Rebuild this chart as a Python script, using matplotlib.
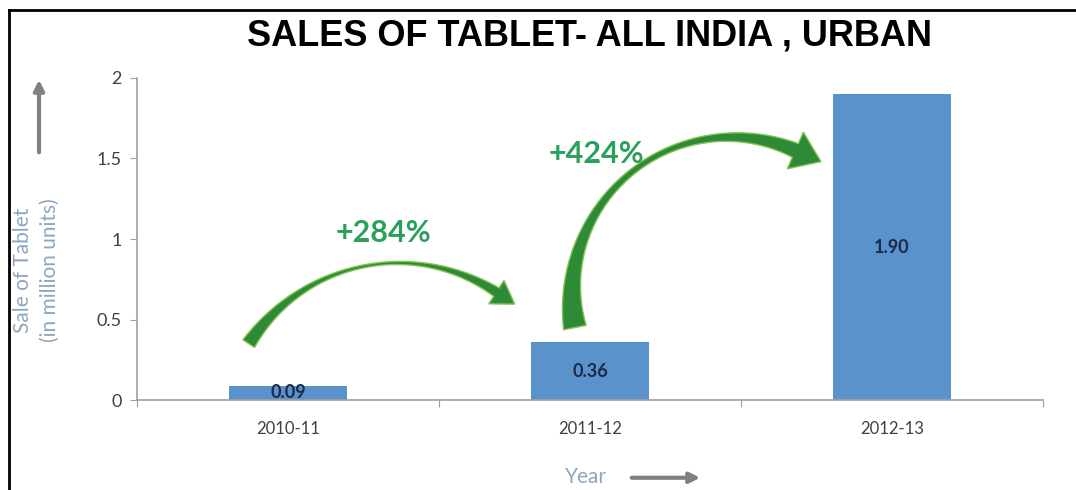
import numpy as np
import matplotlib.pyplot as plt
from matplotlib.patches import Polygon, FancyArrowPatch
from matplotlib.lines import Line2D

years = ['2010-11', '2011-12', '2012-13']
sales = [0.09, 0.36, 1.90]
growth = ['+284%', '+424%']

BAR_BLUE = '#5A92CB'
GREEN_TXT = '#2AA05C'
ARROW_GREEN = '#2E8A36'
LABEL_BLUE = '#8EA6C0'

plt.rcParams['font.family'] = ['Lato', 'DejaVu Sans']

fig = plt.figure(figsize=(10.76, 4.90), dpi=100)
ax = fig.add_axes([137/1076, 1 - 400/490, (1043 - 137)/1076, (400 - 78)/490])

x = np.arange(len(years))
ax.bar(x, sales, width=0.39, color=BAR_BLUE, zorder=2)
for xi, v in zip(x, sales):
    ax.text(xi, v / 2, f'{v:.2f}', ha='center', va='center',
            fontsize=13, fontweight='bold', color='#1B2A47', zorder=3)

ax.set_xlim(-0.5, len(years) - 0.5)
ax.set_ylim(0, 2)
ax.set_yticks([0, 0.5, 1, 1.5, 2])
ax.set_yticklabels(['0', '0.5', '1', '1.5', '2'])

# category boundaries get the tick marks, centers get the labels
ax.set_xticks(np.arange(-0.5, len(years)), labels=[''] * (len(years) + 1))
ax.set_xticks(x, labels=years, minor=True)
ax.tick_params(axis='x', which='minor', length=0, pad=15, labelsize=12, labelcolor='#404040')
ax.tick_params(axis='x', which='major', length=5, color='#A0A0A0')
ax.tick_params(axis='y', length=5, color='#A0A0A0', pad=6, labelsize=13, labelcolor='#404040')

for side in ['top', 'right']:
    ax.spines[side].set_visible(False)
for side in ['left', 'bottom']:
    ax.spines[side].set_color('#A0A0A0')
    ax.spines[side].set_linewidth(1.2)


def curved_arrow(ax, p_tail, p_peak, p_base, w_tail, w_mid, w_end, head_w, head_l):
    # circle through three points, worked out in display space
    P = ax.transData.transform(np.array([p_tail, p_peak, p_base]))
    (x1, y1), (x2, y2), (x3, y3) = P
    d = 2 * (x1 * (y2 - y3) + x2 * (y3 - y1) + x3 * (y1 - y2))
    ux = ((x1**2 + y1**2) * (y2 - y3) + (x2**2 + y2**2) * (y3 - y1) + (x3**2 + y3**2) * (y1 - y2)) / d
    uy = ((x1**2 + y1**2) * (x3 - x2) + (x2**2 + y2**2) * (x1 - x3) + (x3**2 + y3**2) * (x2 - x1)) / d
    c = np.array([ux, uy])
    r = np.hypot(x1 - ux, y1 - uy)
    a0, a1, a2 = [np.arctan2(py - uy, px - ux) for px, py in P]
    o1 = (a1 - a0) % (2 * np.pi)
    o2 = (a2 - a0) % (2 * np.pi)
    if o1 < o2:
        sgn, span = 1, o2
    else:
        sgn, span = -1, 2 * np.pi - o2
    s = np.linspace(0, 1, 120)
    ang = a0 + sgn * span * s
    pts = c + r * np.column_stack([np.cos(ang), np.sin(ang)])
    tang = sgn * np.column_stack([-np.sin(ang), np.cos(ang)])
    norm = np.column_stack([-tang[:, 1], tang[:, 0]])
    w = w_tail * (1 - s)**2 + w_mid * 2 * s * (1 - s) + w_end * s**2
    left = pts + norm * (w[:, None] / 2)
    right = pts - norm * (w[:, None] / 2)
    base, t_end, n_end = pts[-1], tang[-1], norm[-1]
    tip = base + t_end * head_l
    head = [base + n_end * head_w / 2, tip, base - n_end * head_w / 2]
    outline = np.vstack([left, head, right[::-1]])
    outline = ax.transData.inverted().transform(outline)
    ax.add_patch(Polygon(outline, closed=True, facecolor=ARROW_GREEN,
                         edgecolor='#86C455', linewidth=1.0, zorder=4, clip_on=False))


curved_arrow(ax, (-0.13, 0.35), (0.34, 0.85), (0.69, 0.67), 14, -6, 10, 28, 22)
curved_arrow(ax, (0.95, 0.45), (1.43, 1.63), (1.68, 1.55), 23, -7, 15, 40, 28)

ax.text(0.315, 1.04, growth[0], ha='center', va='center', fontsize=22,
        fontweight='bold', color=GREEN_TXT, zorder=5)
ax.text(1.02, 1.53, growth[1], ha='center', va='center', fontsize=22,
        fontweight='bold', color=GREEN_TXT, zorder=5)

fig.text(0.548, 0.927, 'SALES OF TABLET- ALL INDIA , URBAN', ha='center', va='center',
         fontsize=26, fontweight='bold', family='Liberation Sans', color='black')

fig.text(0.034, 0.449, 'Sale of Tablet\n(in million units)', rotation=90,
         ha='center', va='center', ma='center', fontsize=15, color=LABEL_BLUE, linespacing=1.45)
fig.text(0.545, 0.027, 'Year', ha='center', va='center', fontsize=15, color=LABEL_BLUE)

fig.add_artist(FancyArrowPatch((39/1076, 1 - 155/490), (39/1076, 1 - 77/490),
                               transform=fig.transFigure, arrowstyle='-|>,head_length=6,head_width=3',
                               color='#808080', lw=3))
fig.add_artist(FancyArrowPatch((629/1076, 0.025), (703/1076, 0.025),
                               transform=fig.transFigure, arrowstyle='-|>,head_length=6,head_width=3',
                               color='#808080', lw=3))

# frame on top and left
fig.add_artist(Line2D([9/1076, 1], [1 - 10/490, 1 - 10/490], transform=fig.transFigure,
                      color='black', lw=2))
fig.add_artist(Line2D([9/1076, 9/1076], [0, 1 - 10/490], transform=fig.transFigure,
                      color='black', lw=2))

fig.savefig('out.png', dpi=100, facecolor='white')
